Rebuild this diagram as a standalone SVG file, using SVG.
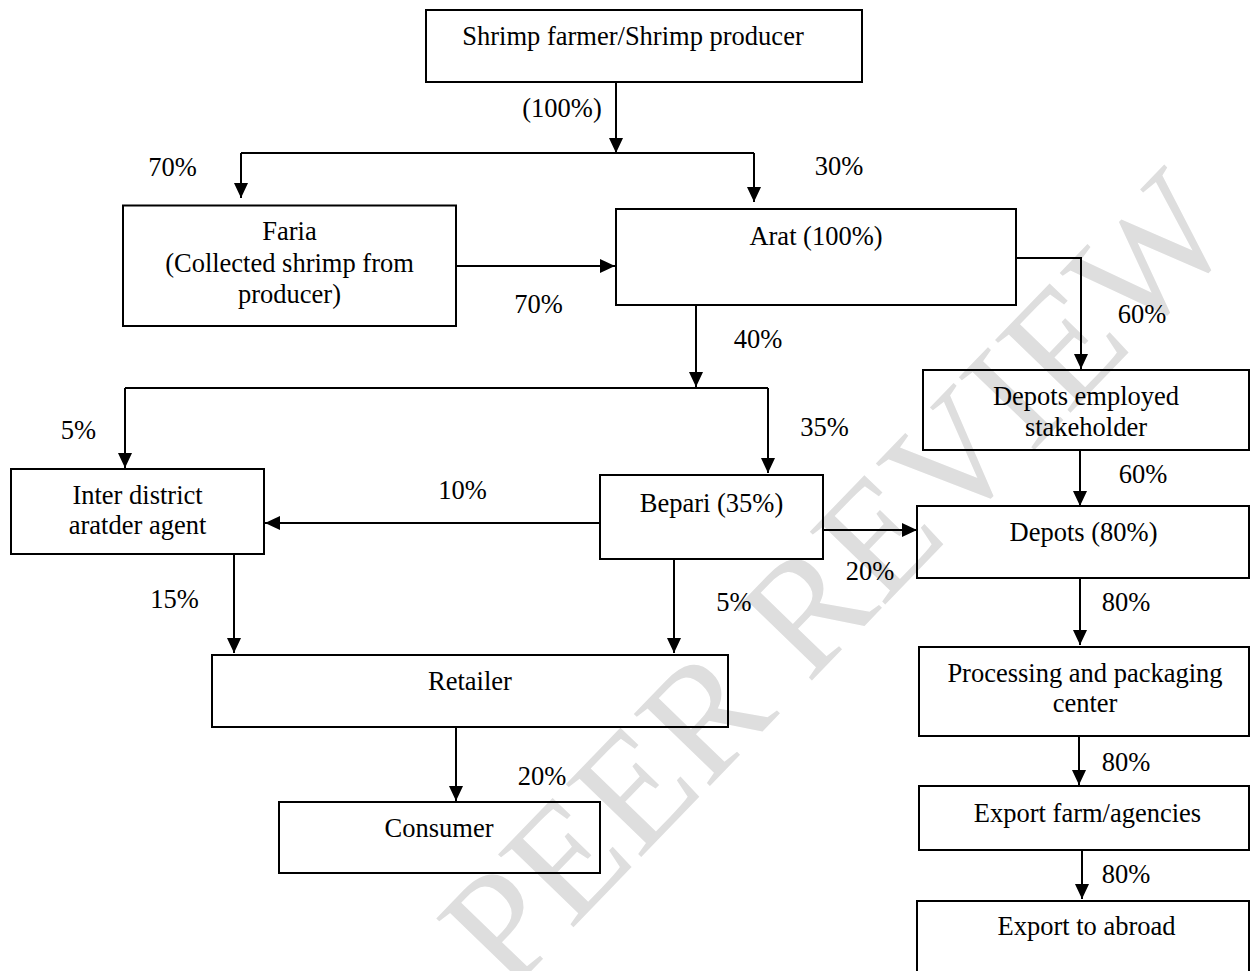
<svg xmlns="http://www.w3.org/2000/svg" width="1251" height="971" viewBox="0 0 1251 971">
<defs>
<marker id="ah" markerUnits="userSpaceOnUse" markerWidth="16" markerHeight="14" refX="15" refY="7" orient="auto">
<path d="M0,0 L15,7 L0,14 z" fill="#000"/>
</marker>
</defs>
<style>
.box{fill:none;stroke:#000;stroke-width:2}
.t{font-family:"Liberation Serif","Times New Roman",serif;font-size:26.5px;fill:#000;text-anchor:middle}
.c{fill:none;stroke:#000;stroke-width:2}
.a{marker-end:url(#ah)}
.wm{font-family:"Liberation Serif","Times New Roman",serif;font-size:160px;fill:#dedede;text-anchor:end}
</style>
<rect width="1251" height="971" fill="#fff"/>
<g id="watermark" transform="translate(1240,237) rotate(-46)">
<text class="wm" x="0" y="0">FOR PEER REVIEW</text>
</g>
<g id="connectors">
<line class="c a" x1="616" y1="82" x2="616" y2="153"/>
<polyline class="c" points="241,153 754,153"/>
<line class="c a" x1="241" y1="153" x2="241" y2="198"/>
<line class="c a" x1="754" y1="153" x2="754" y2="202"/>
<line class="c a" x1="456" y1="266" x2="615" y2="266"/>
<polyline class="c a" points="1016,258 1081,258 1081,369"/>
<line class="c a" x1="696" y1="305" x2="696" y2="387"/>
<polyline class="c" points="125,388 768,388"/>
<line class="c a" x1="125" y1="388" x2="125" y2="468"/>
<line class="c a" x1="768" y1="388" x2="768" y2="473"/>
<line class="c a" x1="1080" y1="450" x2="1080" y2="506"/>
<line class="c a" x1="599" y1="523" x2="265" y2="523"/>
<line class="c a" x1="823" y1="530" x2="917" y2="530"/>
<line class="c a" x1="234" y1="554" x2="234" y2="653"/>
<line class="c a" x1="674" y1="559" x2="674" y2="653"/>
<line class="c a" x1="1080" y1="578" x2="1080" y2="645"/>
<line class="c a" x1="456" y1="727" x2="456" y2="801"/>
<line class="c a" x1="1079" y1="736" x2="1079" y2="785"/>
<line class="c a" x1="1082" y1="850" x2="1082" y2="899"/>
</g>
<g id="labels">
<text class="t" x="562" y="117">(100%)</text>
<text class="t" x="172.5" y="176">70%</text>
<text class="t" x="839" y="175">30%</text>
<text class="t" x="538.5" y="313">70%</text>
<text class="t" x="1142" y="323">60%</text>
<text class="t" x="758" y="348">40%</text>
<text class="t" x="824.5" y="436">35%</text>
<text class="t" x="78.5" y="439">5%</text>
<text class="t" x="1143" y="483">60%</text>
<text class="t" x="462.5" y="499">10%</text>
<text class="t" x="870" y="580">20%</text>
<text class="t" x="174.5" y="608">15%</text>
<text class="t" x="734" y="611">5%</text>
<text class="t" x="1126" y="611">80%</text>
<text class="t" x="542" y="785">20%</text>
<text class="t" x="1126" y="771">80%</text>
<text class="t" x="1126" y="883">80%</text>
</g>
<g id="n-shrimp"><rect class="box" x="426" y="10" width="436" height="72"/><text class="t" x="633" y="45">Shrimp farmer/Shrimp producer</text></g>
<g id="n-faria"><rect class="box" x="123" y="205.5" width="333" height="120.5"/><text class="t" x="289.5" y="240">Faria</text><text class="t" x="289.5" y="271.5">(Collected shrimp from</text><text class="t" x="289.5" y="303">producer)</text></g>
<g id="n-arat"><rect class="box" x="616" y="209" width="400" height="96"/><text class="t" x="816" y="245">Arat (100%)</text></g>
<g id="n-depemp"><rect class="box" x="923" y="370" width="326" height="80"/><text class="t" x="1086" y="405">Depots employed</text><text class="t" x="1086" y="435.5">stakeholder</text></g>
<g id="n-inter"><rect class="box" x="11" y="469" width="253" height="85"/><text class="t" x="137.5" y="504">Inter district</text><text class="t" x="137.5" y="534">aratder agent</text></g>
<g id="n-bepari"><rect class="box" x="600" y="475" width="223" height="84"/><text class="t" x="711.5" y="511.5">Bepari (35%)</text></g>
<g id="n-depots"><rect class="box" x="917" y="506" width="332" height="72"/><text class="t" x="1083.5" y="541">Depots (80%)</text></g>
<g id="n-retailer"><rect class="box" x="212" y="655" width="516" height="72"/><text class="t" x="470" y="690">Retailer</text></g>
<g id="n-consumer"><rect class="box" x="279" y="802" width="321" height="71"/><text class="t" x="439" y="836.5">Consumer</text></g>
<g id="n-processing"><rect class="box" x="919" y="647" width="330" height="89"/><text class="t" x="1085" y="681.5">Processing and packaging</text><text class="t" x="1085" y="711.5">center</text></g>
<g id="n-exportfarm"><rect class="box" x="919" y="786" width="330" height="64"/><text class="t" x="1087.5" y="821.5">Export farm/agencies</text></g>
<g id="n-abroad"><rect class="box" x="917" y="901" width="332" height="90"/><text class="t" x="1086.5" y="935">Export to abroad</text></g>
</svg>
